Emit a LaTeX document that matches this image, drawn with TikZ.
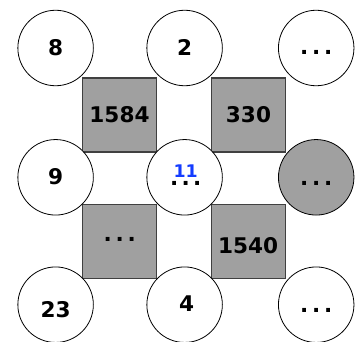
\documentclass[tikz,border=0pt]{standalone}
\usepackage{fontspec}
\setmainfont{DejaVu Sans}
\definecolor{boxgray}{RGB}{160,160,160}
\definecolor{edgegray}{RGB}{64,64,64}
\definecolor{numblue}{RGB}{20,60,255}
\newcommand\mydots{.\hspace{3.8pt}.\hspace{3.8pt}.}
\begin{document}
\begin{tikzpicture}[x=1pt,y=-1pt,
  cell/.style={circle, draw=black, line width=0.8pt, fill=white, minimum size=75.5pt, inner sep=0pt},
  graycell/.style={cell, fill=boxgray},
  prod/.style={rectangle, draw=edgegray, line width=1.1pt, fill=boxgray, minimum size=74pt, inner sep=0pt},
  num/.style={font=\fontsize{21.6}{24}\selectfont\bfseries, text height=15.7pt, text depth=0pt, inner sep=0pt},
  small/.style={font=\fontsize{17.4}{20}\selectfont\bfseries, text=numblue, text height=12.7pt, text depth=0pt, inner sep=0pt}]
\useasboundingbox (0,0) rectangle (361,342);
% product squares
\node[prod] (s1) at (119.5,115) {};
\node[prod] (s2) at (248.5,115) {};
\node[prod] (s3) at (119.8,241.5) {};
\node[prod] (s4) at (248.2,241.5) {};
% grid circles
\node[cell] (c11) at (55.6,48) {};
\node[cell] (c12) at (184.6,48) {};
\node[cell] (c13) at (316.2,48) {};
\node[cell] (c21) at (55.6,177.3) {};
\node[cell] (c22) at (184.6,177.3) {};
\node[graycell] (c23) at (316.2,177.3) {};
\node[cell] (c31) at (55.6,304.7) {};
\node[cell] (c32) at (184.6,304.7) {};
\node[cell] (c33) at (316.2,304.7) {};
% texts
\node[num] (t11) at (c11) {8};
\node[num] (t12) at (c12) {2};
\node[num, yshift=1.4pt] (t13) at (c13) {\mydots};
\node[num, yshift=1pt] (t21) at (c21) {9};
\node[num, xshift=1.2pt] (t22) at (c22) {.\hspace{3.3pt}.\hspace{3.3pt}.};
\node[small, xshift=1.1pt, yshift=6pt] (t22b) at (c22) {11};
\node[num] (t23) at (c23) {\mydots};
\node[num, yshift=-4.8pt] (t31) at (c31) {23};
\node[num, xshift=2pt, yshift=0.9pt] (t32) at (c32) {4};
\node[num] (t33) at (c33) {\mydots};
\node[num] (ts1) at (s1) {1584};
\node[num] (ts2) at (s2) {330};
\node[num, yshift=7.9pt] (ts3) at (s3) {\mydots};
\node[num, yshift=-3.8pt] (ts4) at (s4) {1540};
\end{tikzpicture}
\end{document}
